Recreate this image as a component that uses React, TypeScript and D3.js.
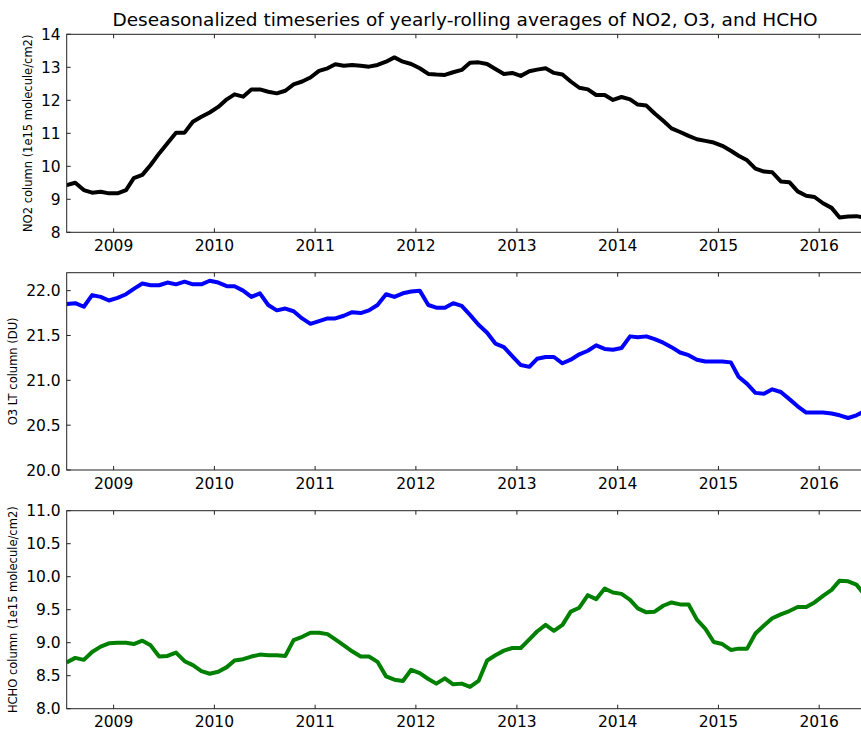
import React, { useEffect, useRef } from 'react';
import * as d3 from 'd3';

// monthly samples, Jul 2008 .. Jun 2016
const months = d3.timeMonth.range(new Date(2008, 6, 1), new Date(2016, 6, 1)).map(d => new Date(d.getFullYear(), d.getMonth(), 15));

const no2 = [
  9.43, 9.50, 9.28, 9.20, 9.23, 9.18, 9.18, 9.28, 9.64, 9.74, 10.04, 10.39, 10.70, 11.02, 11.02, 11.35,
  11.50, 11.63, 11.80, 12.03, 12.18, 12.11, 12.33, 12.33, 12.26, 12.21, 12.29, 12.48, 12.57, 12.69, 12.89, 12.97,
  13.09, 13.05, 13.07, 13.05, 13.02, 13.07, 13.17, 13.30, 13.17, 13.10, 12.97, 12.80, 12.78, 12.77, 12.85, 12.92,
  13.14, 13.15, 13.10, 12.95, 12.80, 12.83, 12.74, 12.88, 12.93, 12.97, 12.83, 12.78, 12.57, 12.38, 12.33, 12.16,
  12.16, 12.01, 12.10, 12.03, 11.87, 11.84, 11.60, 11.38, 11.15, 11.04, 10.92, 10.82, 10.77, 10.72, 10.62, 10.47,
  10.32, 10.18, 9.93, 9.84, 9.82, 9.54, 9.52, 9.24, 9.11, 9.07, 8.88, 8.74, 8.45, 8.48, 8.49, 8.44,
];

const o3 = [
  21.85, 21.86, 21.82, 21.95, 21.93, 21.89, 21.92, 21.96, 22.02, 22.08, 22.06, 22.06, 22.09, 22.07, 22.10, 22.07,
  22.07, 22.11, 22.09, 22.05, 22.05, 22.00, 21.93, 21.97, 21.84, 21.78, 21.80, 21.77, 21.69, 21.63, 21.66, 21.69,
  21.69, 21.72, 21.76, 21.75, 21.78, 21.84, 21.96, 21.93, 21.97, 21.99, 22.00, 21.84, 21.81, 21.81, 21.86, 21.83,
  21.73, 21.62, 21.53, 21.41, 21.37, 21.27, 21.17, 21.15, 21.24, 21.26, 21.26, 21.19, 21.23, 21.29, 21.33, 21.39,
  21.35, 21.34, 21.36, 21.49, 21.48, 21.49, 21.46, 21.42, 21.37, 21.31, 21.28, 21.23, 21.21, 21.21, 21.21, 21.20,
  21.04, 20.96, 20.86, 20.85, 20.90, 20.87, 20.79, 20.71, 20.64, 20.64, 20.64, 20.63, 20.61, 20.58, 20.61, 20.66,
];

const hcho = [
  8.70, 8.77, 8.74, 8.86, 8.94, 8.99, 9.00, 9.00, 8.98, 9.03, 8.96, 8.79, 8.80, 8.85, 8.72, 8.66,
  8.57, 8.53, 8.56, 8.63, 8.73, 8.75, 8.79, 8.82, 8.81, 8.81, 8.80, 9.04, 9.09, 9.15, 9.15, 9.13,
  9.05, 8.96, 8.87, 8.79, 8.79, 8.71, 8.49, 8.44, 8.42, 8.59, 8.54, 8.45, 8.38, 8.46, 8.37, 8.38,
  8.33, 8.42, 8.73, 8.81, 8.88, 8.92, 8.92, 9.05, 9.17, 9.27, 9.18, 9.27, 9.47, 9.53, 9.72, 9.66,
  9.82, 9.76, 9.74, 9.65, 9.52, 9.46, 9.47, 9.56, 9.61, 9.58, 9.58, 9.35, 9.21, 9.01, 8.98, 8.89,
  8.91, 8.91, 9.14, 9.26, 9.37, 9.43, 9.48, 9.54, 9.54, 9.61, 9.71, 9.80, 9.94, 9.93, 9.88, 9.72,
];

const yearTicks = [2009, 2010, 2011, 2012, 2013, 2014, 2015, 2016];
const no2Ticks = [8, 9, 10, 11, 12, 13, 14];
const o3Ticks = [20.0, 20.5, 21.0, 21.5, 22.0];
const hchoTicks = [8.0, 8.5, 9.0, 9.5, 10.0, 10.5, 11.0];

const title = 'Deseasonalized timeseries of yearly-rolling averages of NO2, O3, and HCHO';

const panels = [
  { values: no2, domain: [8, 14], ticks: no2Ticks, fmt: d3.format('d'), label: 'NO2 column (1e15 molecule/cm2)', color: '#000000', top: 34.3, bottom: 232.3, labelX: 28 },
  { values: o3, domain: [20, 22.2], ticks: o3Ticks, fmt: d3.format('.1f'), label: 'O3 LT column (DU)', color: '#0000ff', top: 272.7, bottom: 470, labelX: 13 },
  { values: hcho, domain: [8, 11], ticks: hchoTicks, fmt: d3.format('.1f'), label: 'HCHO column (1e15 molecule/cm2)', color: '#008000', top: 510.7, bottom: 708.7, labelX: 13 },
];

export default function App() {
  const ref = useRef<SVGSVGElement>(null);

  useEffect(() => {
    if (!ref.current) return;
    const svg = d3.select(ref.current);
    svg.selectAll('*').remove();

    const left = 66.7;
    const right = 865;
    const x = d3.scaleTime().domain([months[0], months[months.length - 1]]).range([left, right]);
    const font = 'DejaVu Sans, sans-serif';

    svg.append('text')
      .attr('x', 465).attr('y', 25.5)
      .attr('text-anchor', 'middle')
      .attr('font-family', font).attr('font-size', 18.5)
      .text(title);

    panels.forEach((p, k) => {
      const y = d3.scaleLinear().domain(p.domain).range([p.bottom, p.top]);
      const g = svg.append('g');

      const clipId = `clip${k}`;
      svg.append('clipPath').attr('id', clipId)
        .append('rect').attr('x', left).attr('y', p.top).attr('width', right - left).attr('height', p.bottom - p.top);

      const line = d3.line<number>()
        .x((_, i) => x(months[i]))
        .y(d => y(d));

      g.append('path').datum(p.values)
        .attr('clip-path', `url(#${clipId})`)
        .attr('fill', 'none').attr('stroke', p.color).attr('stroke-width', 4)
        .attr('stroke-linejoin', 'round')
        .attr('d', line);

      // frame
      g.append('rect')
        .attr('x', left).attr('y', p.top).attr('width', right - left).attr('height', p.bottom - p.top)
        .attr('fill', 'none').attr('stroke', '#222').attr('stroke-width', 1);

      // y ticks, inward on both sides
      p.ticks.forEach(t => {
        const ty = y(t);
        g.append('line').attr('x1', left).attr('x2', left + 4).attr('y1', ty).attr('y2', ty).attr('stroke', '#222');
        g.append('line').attr('x1', right - 4).attr('x2', right).attr('y1', ty).attr('y2', ty).attr('stroke', '#222');
        g.append('text')
          .attr('x', left - 6).attr('y', ty + 5.6)
          .attr('text-anchor', 'end')
          .attr('font-family', font).attr('font-size', 15.5)
          .text(p.fmt(t));
      });

      // x ticks, inward on top and bottom
      yearTicks.forEach(yr => {
        const tx = x(new Date(yr, 0, 1));
        g.append('line').attr('x1', tx).attr('x2', tx).attr('y1', p.bottom).attr('y2', p.bottom - 4).attr('stroke', '#222');
        g.append('line').attr('x1', tx).attr('x2', tx).attr('y1', p.top).attr('y2', p.top + 4).attr('stroke', '#222');
        g.append('text')
          .attr('x', tx).attr('y', p.bottom + 18.7)
          .attr('text-anchor', 'middle')
          .attr('font-family', font).attr('font-size', 15.5)
          .text(String(yr));
      });

      const cy = (p.top + p.bottom) / 2;
      g.append('text')
        .attr('transform', `translate(${p.labelX},${cy}) rotate(-90)`)
        .attr('text-anchor', 'middle')
        .attr('dy', '0.35em')
        .attr('font-family', font).attr('font-size', 11.5)
        .text(p.label);
    });
  }, []);

  return (
    <svg ref={ref} width={861} height={733} style={{ position: 'absolute', left: 0, top: 0, background: '#fff' }} />
  );
}
